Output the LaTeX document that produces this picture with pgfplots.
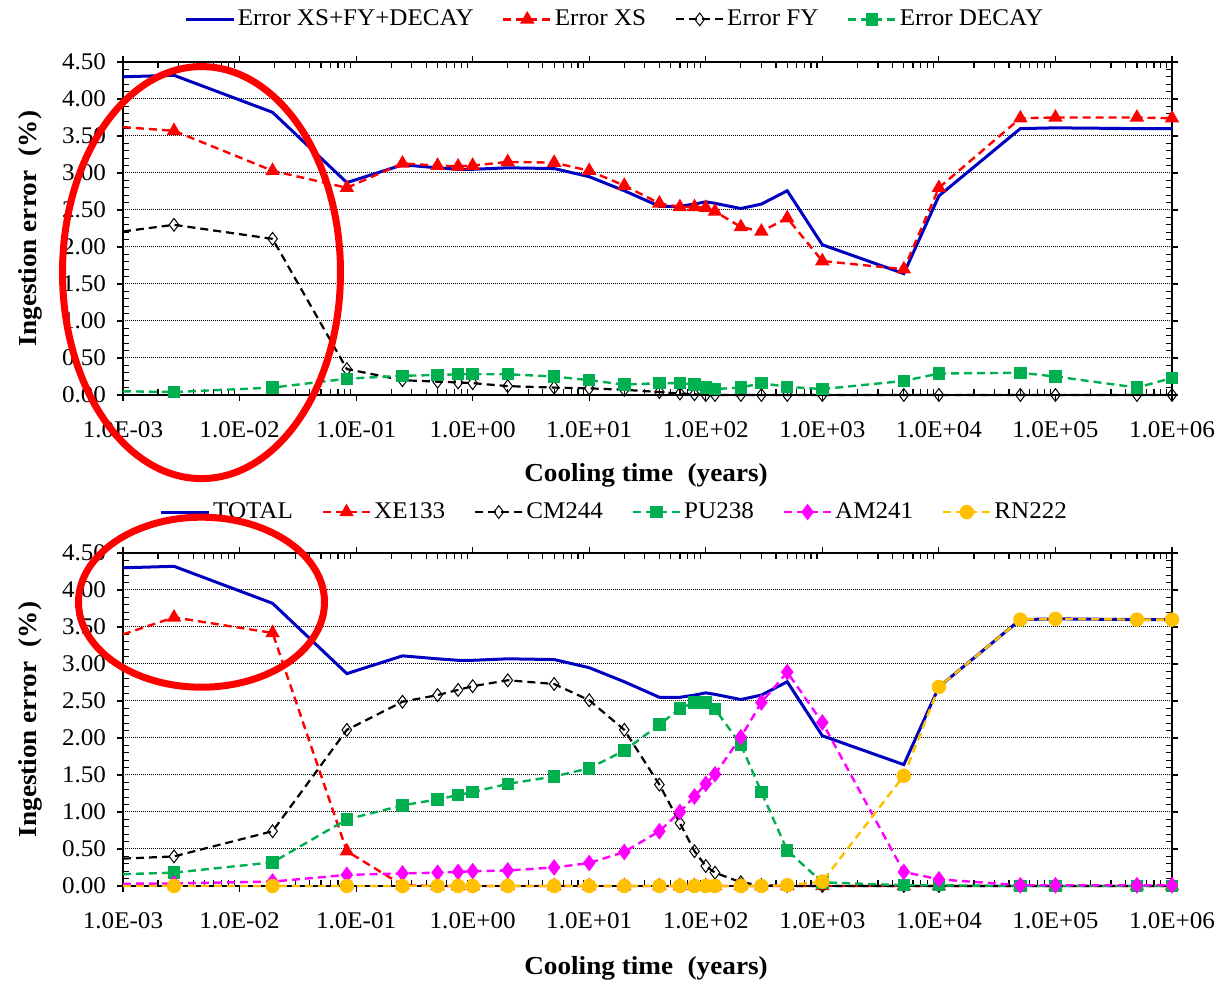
\documentclass[border=0pt]{standalone}
\usepackage{fontspec}
\setmainfont{Liberation Serif}[FakeStretch=1.05]
\usepackage{pgfplots}
\usepackage{pgfplotstable}
\pgfplotsset{compat=1.18}

\definecolor{totblue}{RGB}{0,0,192}
\definecolor{xsred}{RGB}{255,0,0}
\definecolor{decgreen}{RGB}{0,176,80}
\definecolor{ammag}{RGB}{255,0,255}
\definecolor{rngold}{RGB}{255,192,0}

% Error contributions by source (%), cooling time in years
\pgfplotstableread{
t        total xs   fy   decay
1e-3     4.30  3.62 2.21 0.05
2.74e-3  4.32  3.57 2.30 0.04
0.0192   3.82  3.03 2.11 0.10
0.0833   2.87  2.80 0.35 0.22
0.25     3.11  3.13 0.20 0.26
0.5      3.07  3.10 0.18 0.27
0.75     3.05  3.09 0.17 0.28
1        3.05  3.10 0.16 0.28
2        3.07  3.15 0.12 0.28
5        3.06  3.14 0.10 0.25
10       2.95  3.03 0.09 0.20
20       2.76  2.83 0.07 0.14
40       2.55  2.59 0.04 0.16
60       2.55  2.54 0.02 0.16
80       2.58  2.54 0.01 0.14
100      2.61  2.53 0.00 0.10
120      2.59  2.48 0.00 0.08
200      2.52  2.27 0.00 0.10
300      2.58  2.21 0.00 0.16
500      2.76  2.39 0.00 0.11
1000     2.03  1.81 0.00 0.08
5000     1.64  1.70 0.00 0.19
1e4      2.69  2.80 0.00 0.29
5e4      3.60  3.74 0.00 0.30
1e5      3.61  3.75 0.00 0.25
5e5      3.60  3.75 0.00 0.10
1e6      3.60  3.74 0.00 0.23
}\sourcetable

% Error contributions by nuclide (%)
\pgfplotstableread{
t        total xe   cm   pu   am    rn
1e-3     4.30  3.40 0.37 0.16 0.030 0.00
2.74e-3  4.32  3.63 0.40 0.18 0.035 0.00
0.0192   3.82  3.42 0.74 0.32 0.060 0.00
0.0833   2.87  0.47 2.11 0.90 0.150 0.00
0.25     3.11  0.01 2.49 1.09 0.170 0.00
0.5      3.07  0.00 2.58 1.17 0.180 0.00
0.75     3.05  0.00 2.65 1.23 0.190 0.00
1        3.05  0.00 2.70 1.27 0.200 0.00
2        3.07  0.00 2.78 1.38 0.210 0.00
5        3.06  0.00 2.73 1.48 0.250 0.00
10       2.95  0.00 2.51 1.59 0.310 0.00
20       2.76  0.00 2.11 1.83 0.460 0.00
40       2.55  0.00 1.37 2.18 0.740 0.00
60       2.55  0.00 0.85 2.40 1.000 0.00
80       2.58  0.00 0.47 2.48 1.210 0.00
100      2.61  0.00 0.27 2.48 1.380 0.00
120      2.59  0.00 0.18 2.39 1.510 0.00
200      2.52  0.00 0.05 1.91 2.010 0.00
300      2.58  0.00 0.01 1.27 2.480 0.00
500      2.76  0.00 0.00 0.48 2.890 0.01
1000     2.03  0.00 0.00 0.05 2.210 0.06
5000     1.64  0.00 0.00 0.01 0.190 1.49
1e4      2.69  0.00 0.00 0.01 0.090 2.69
5e4      3.60  0.00 0.00 0.00 0.010 3.60
1e5      3.61  0.00 0.00 0.00 0.010 3.61
5e5      3.60  0.00 0.00 0.00 0.010 3.60
1e6      3.60  0.00 0.00 0.00 0.010 3.60
}\nuclidetable

\pgfplotsset{
  legend image code/.code={%
    \draw[mark repeat=2,mark phase=2,#1]
      plot coordinates {(0bp,0bp) (12bp,0bp) (24bp,0bp)};},
}

\begin{document}
\begin{tikzpicture}
\path[use as bounding box] (0,0) rectangle (609.5bp,492bp);

% Upper panel: error by data source
\begin{axis}[at={(61.5bp,294.5bp)}, anchor=south west,
    xmode=log,
    scale only axis,
    width=524.5bp, height=166.5bp,
    xmin=1e-3, xmax=1e6,
    ymin=0, ymax=4.5,
    clip=false,
    axis line style={black, line width=0.8bp},
    xtick={1e-3,1e-2,1e-1,1,10,100,1e3,1e4,1e5,1e6},
    xticklabels={1.0E-03,1.0E-02,1.0E-01,1.0E+00,1.0E+01,1.0E+02,1.0E+03,1.0E+04,1.0E+05,1.0E+06},
    minor xtick={2e-3,3e-3,4e-3,5e-3,6e-3,7e-3,8e-3,9e-3,
                 2e-2,3e-2,4e-2,5e-2,6e-2,7e-2,8e-2,9e-2,
                 2e-1,3e-1,4e-1,5e-1,6e-1,7e-1,8e-1,9e-1,
                 2,3,4,5,6,7,8,9,
                 20,30,40,50,60,70,80,90,
                 200,300,400,500,600,700,800,900,
                 2e3,3e3,4e3,5e3,6e3,7e3,8e3,9e3,
                 2e4,3e4,4e4,5e4,6e4,7e4,8e4,9e4,
                 2e5,3e5,4e5,5e5,6e5,7e5,8e5,9e5},
    ytick={0,0.5,1,1.5,2,2.5,3,3.5,4,4.5},
    minor y tick num=4,
    tick align=inside,
    major tick length=-3bp,
    minor tick length=3bp,
    tick style={black, line width=0.6bp},
    ymajorgrids,
    major grid style={black, line width=0.5bp, dash pattern=on 0.5bp off 0.5bp},
    /pgf/number format/assume math mode=true,
    yticklabel style={/pgf/number format/fixed, /pgf/number format/fixed zerofill, /pgf/number format/precision=2},
    tick label style={font=\fontsize{12}{14}\selectfont},
    xticklabel style={yshift=-10bp},
    yticklabel style={xshift=-5bp},
    xlabel={Cooling time\hspace{0.3em} (years)},
    ylabel={Ingestion error\hspace{0.3em} (\%)},
    xlabel style={font=\bfseries\fontsize{13}{15}\selectfont, at={(axis description cs:0.4986,-0.24)}, anchor=center},
    ylabel style={font=\bfseries\fontsize{13}{15}\selectfont, at={(axis description cs:-0.0887,0.5)}, anchor=center},
    legend columns=-1,
    legend style={draw=none, fill=none, font=\fontsize{12}{14}\selectfont,
      at={(axis description cs:0.469,1.128)}, anchor=center, inner sep=0pt,
      nodes={inner sep=1.2bp},
      /tikz/every even column/.append style={column sep=13bp}},
]
\addplot[totblue, line width=1.5bp] table[x=t, y=total] {\sourcetable};
\addlegendentry{Error XS+FY+DECAY}
\addplot[xsred, dash pattern=on 4bp off 2.5bp, line width=1.2bp, mark=triangle*, mark size=3bp, mark phase=2, mark options={solid}]
  table[x=t, y=xs] {\sourcetable};
\addlegendentry{Error XS}
\addplot[black, dash pattern=on 4bp off 2.5bp, line width=1.1bp, mark=diamond, mark size=3.2bp, mark phase=2,
  mark options={solid, fill=white, line width=0.5bp}]
  table[x=t, y=fy] {\sourcetable};
\addlegendentry{Error FY}
\addplot[decgreen, dash pattern=on 4bp off 2.5bp, line width=1.2bp, mark=square*, mark size=2.5bp, mark phase=2, mark options={solid}]
  table[x=t, y=decay] {\sourcetable};
\addlegendentry{Error DECAY}
\end{axis}

% Lower panel: error by nuclide
\begin{axis}[at={(61.5bp,49bp)}, anchor=south west,
    xmode=log,
    scale only axis,
    width=524.5bp, height=166.5bp,
    xmin=1e-3, xmax=1e6,
    ymin=0, ymax=4.5,
    clip=false,
    axis line style={black, line width=0.8bp},
    xtick={1e-3,1e-2,1e-1,1,10,100,1e3,1e4,1e5,1e6},
    xticklabels={1.0E-03,1.0E-02,1.0E-01,1.0E+00,1.0E+01,1.0E+02,1.0E+03,1.0E+04,1.0E+05,1.0E+06},
    minor xtick={2e-3,3e-3,4e-3,5e-3,6e-3,7e-3,8e-3,9e-3,
                 2e-2,3e-2,4e-2,5e-2,6e-2,7e-2,8e-2,9e-2,
                 2e-1,3e-1,4e-1,5e-1,6e-1,7e-1,8e-1,9e-1,
                 2,3,4,5,6,7,8,9,
                 20,30,40,50,60,70,80,90,
                 200,300,400,500,600,700,800,900,
                 2e3,3e3,4e3,5e3,6e3,7e3,8e3,9e3,
                 2e4,3e4,4e4,5e4,6e4,7e4,8e4,9e4,
                 2e5,3e5,4e5,5e5,6e5,7e5,8e5,9e5},
    ytick={0,0.5,1,1.5,2,2.5,3,3.5,4,4.5},
    minor y tick num=4,
    tick align=inside,
    major tick length=-3bp,
    minor tick length=3bp,
    tick style={black, line width=0.6bp},
    ymajorgrids,
    major grid style={black, line width=0.5bp, dash pattern=on 0.5bp off 0.5bp},
    /pgf/number format/assume math mode=true,
    yticklabel style={/pgf/number format/fixed, /pgf/number format/fixed zerofill, /pgf/number format/precision=2},
    tick label style={font=\fontsize{12}{14}\selectfont},
    xticklabel style={yshift=-10bp},
    yticklabel style={xshift=-5bp},
    xlabel={Cooling time\hspace{0.3em} (years)},
    ylabel={Ingestion error\hspace{0.3em} (\%)},
    xlabel style={font=\bfseries\fontsize{13}{15}\selectfont, at={(axis description cs:0.4986,-0.246)}, anchor=center},
    ylabel style={font=\bfseries\fontsize{13}{15}\selectfont, at={(axis description cs:-0.0887,0.5)}, anchor=center},
    legend columns=-1,
    legend style={draw=none, fill=none, font=\fontsize{12}{14}\selectfont,
      at={(axis description cs:0.4686,1.123)}, anchor=center, inner sep=0pt,
      nodes={inner sep=1.2bp},
      /tikz/every even column/.append style={column sep=13bp}},
]
\addplot[totblue, line width=1.5bp] table[x=t, y=total] {\nuclidetable};
\addlegendentry{TOTAL}
\addplot[xsred, dash pattern=on 4bp off 2.5bp, line width=1.2bp, mark=triangle*, mark size=3bp, mark phase=2, mark options={solid}]
  table[x=t, y=xe] {\nuclidetable};
\addlegendentry{XE133}
\addplot[black, dash pattern=on 4bp off 2.5bp, line width=1.1bp, mark=diamond, mark size=3.2bp, mark phase=2,
  mark options={solid, fill=white, line width=0.5bp}]
  table[x=t, y=cm] {\nuclidetable};
\addlegendentry{CM244}
\addplot[decgreen, dash pattern=on 4bp off 2.5bp, line width=1.2bp, mark=square*, mark size=2.5bp, mark phase=2, mark options={solid}]
  table[x=t, y=pu] {\nuclidetable};
\addlegendentry{PU238}
\addplot[ammag, dash pattern=on 4bp off 2.5bp, line width=1.2bp, mark=diamond*, mark size=3.2bp, mark phase=2, mark options={solid}]
  table[x=t, y=am] {\nuclidetable};
\addlegendentry{AM241}
\addplot[rngold, dash pattern=on 4bp off 2.5bp, line width=1.2bp, mark=*, mark size=3bp, mark phase=2, mark options={solid}]
  table[x=t, y=rn] {\nuclidetable};
\addlegendentry{RN222}
\end{axis}

% Highlight rings around the early cooling times
\draw[xsred, line width=3.5bp] (100.75bp,355.7bp) ellipse [x radius=69.5bp, y radius=103bp];
\draw[xsred, line width=3.5bp] (100.75bp,190.9bp) ellipse [x radius=61.5bp, y radius=42.5bp];
\end{tikzpicture}
\end{document}
